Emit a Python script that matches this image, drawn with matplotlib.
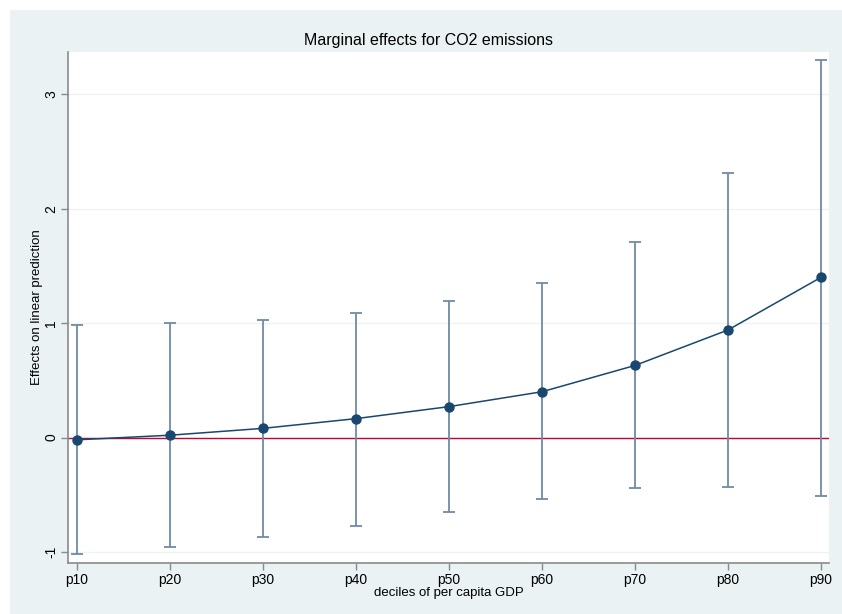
import numpy as np
import matplotlib.pyplot as plt
from matplotlib.patches import Rectangle

plt.rcParams['font.family'] = ['Liberation Sans', 'DejaVu Sans']

labels = ['p10', 'p20', 'p30', 'p40', 'p50', 'p60', 'p70', 'p80', 'p90']
effect = [-0.02, 0.02, 0.08, 0.165, 0.27, 0.40, 0.63, 0.94, 1.40]
upper = [0.98, 1.00, 1.03, 1.09, 1.19, 1.35, 1.71, 2.31, 3.30]
lower = [-1.02, -0.96, -0.87, -0.77, -0.65, -0.54, -0.44, -0.43, -0.51]

bg = '#eaf2f3'
navy = '#1a476f'
ci_col = '#6f8ba6'

x = np.arange(len(labels))
effect = np.array(effect)
yerr = [effect - np.array(lower), np.array(upper) - effect]

fig = plt.figure(figsize=(8.42, 6.14), dpi=100, facecolor='white')
fig.patches.append(Rectangle((10 / 842, 0), 1, 1 - 10 / 614, transform=fig.transFigure,
                             facecolor=bg, edgecolor='none', zorder=-1))

ax = fig.add_axes([68 / 842, 1 - 563 / 614, (829 - 68) / 842, (563 - 52) / 614])
ax.set_facecolor('white')

for yv in [-1, 0, 1, 2, 3]:
    ax.axhline(yv, color='#eef2f3', lw=1, zorder=0)
ax.axhline(0, color='#c10534', lw=1, zorder=1)

ax.errorbar(x, effect, yerr=yerr, fmt='none', ecolor=ci_col, elinewidth=1.3,
            capsize=4, capthick=1.3, zorder=2)
ax.plot(x, effect, '-', color=navy, lw=1.1, zorder=3)
ax.plot(x, effect, 'o', color=navy, ms=6.5, zorder=4)

ax.set_xlim(-0.097, 8.086)
ax.set_ylim(-1.097, 3.37)
ax.set_xticks(x)
ax.set_xticklabels(labels, fontsize=10)
ax.set_yticks([-1, 0, 1, 2, 3])
ax.set_yticklabels(['-1', '0', '1', '2', '3'], rotation=90, va='center', fontsize=10)

for s in ['top', 'right']:
    ax.spines[s].set_visible(False)
for s in ['left', 'bottom']:
    ax.spines[s].set_color('#8a8a8a')
    ax.spines[s].set_linewidth(1.2)
ax.tick_params(colors='#8a8a8a', labelcolor='black', length=5, width=1, pad=2)

ax.set_xlabel('deciles of per capita GDP', fontsize=9.5, labelpad=0)
ax.set_ylabel('Effects on linear prediction', fontsize=9.5, labelpad=1)
fig.text(429 / 842, 1 - 41 / 614, 'Marginal effects for CO2 emissions', fontsize=11.5,
         ha='center', va='center')

fig.savefig('out.png', dpi=100, facecolor='white')
